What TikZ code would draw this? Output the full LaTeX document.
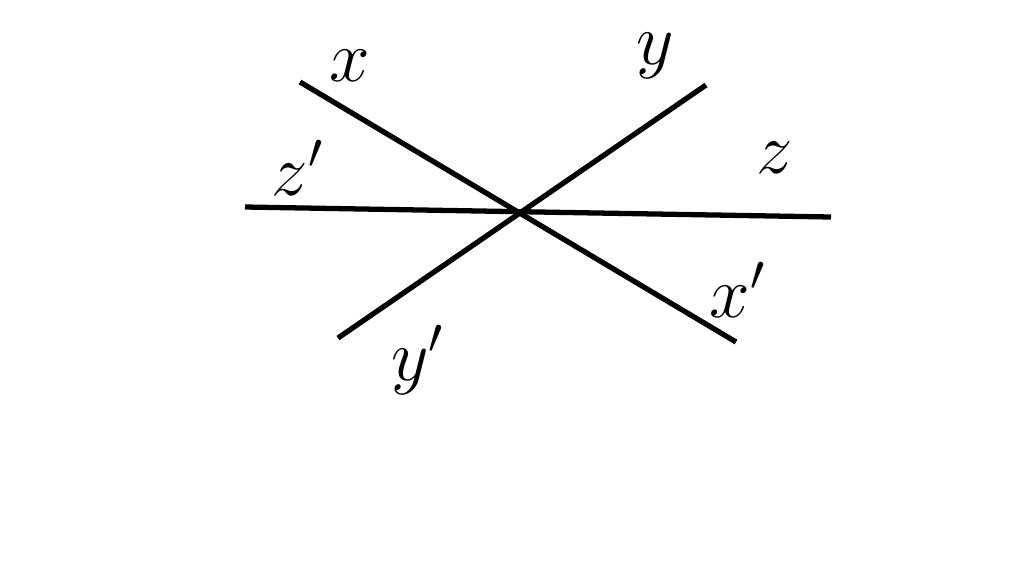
\documentclass[tikz,border=0pt]{standalone}
\begin{document}
\begin{tikzpicture}[x=0.01cm,y=-0.01cm,
  axis/.style={line width=1.5pt,black},
  lbl/.style={font=\fontsize{20}{24}\selectfont,inner sep=0pt}]
\useasboundingbox (0,0) rectangle (1024,575);
% end points of the three lines
\coordinate (xa) at (300,82);
\coordinate (xb) at (736,342);
\coordinate (ya) at (706,85);
\coordinate (yb) at (338,338);
\coordinate (za) at (245,207);
\coordinate (zb) at (831,217);
\draw [axis] (xa) -- (xb) ;
\draw [axis] (ya) -- (yb) ;
\draw [axis] (za) -- (zb) ;
% labels
\node[lbl] (lx) at (350,66) {$x$};
\node[lbl] (ly) at (655,56) {$y$};
\node[lbl] (lz) at (775,158) {$z$};
\node[lbl] (lzp) at (298,168) {$z'$};
\node[lbl] (lxp) at (738,290) {$x'$};
\node[lbl] (lyp) at (418,360) {$y'$};
\end{tikzpicture}
\end{document}
